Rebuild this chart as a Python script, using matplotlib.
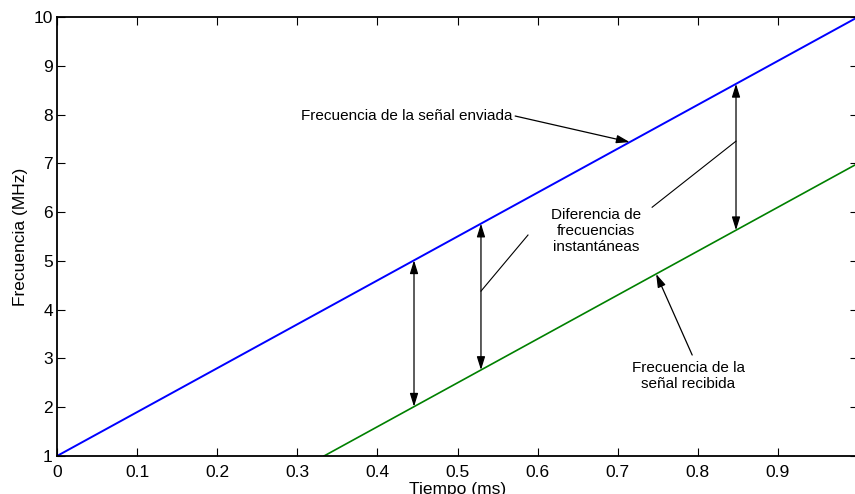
import numpy as np
import matplotlib
matplotlib.use("Agg")
import matplotlib.pyplot as plt

plt.rcParams['font.family'] = ['Liberation Sans', 'DejaVu Sans']

# Data
t_sent = [0.0, 1.0]
f_sent = [1.0, 10.0]
t_recv = [1.0 / 3.0, 1.0]
f_recv = [1.0, 7.0]
xticks = [0, 0.1, 0.2, 0.3, 0.4, 0.5, 0.6, 0.7, 0.8, 0.9]
xticklabels = ['0', '0.1', '0.2', '0.3', '0.4', '0.5', '0.6', '0.7', '0.8', '0.9']
yticks = [1, 2, 3, 4, 5, 6, 7, 8, 9, 10]
diff_times = [0.4457, 0.5293, 0.8477]

W, H = 855, 494
fig = plt.figure(figsize=(W / 100, H / 100), dpi=100)
ax = fig.add_axes([57 / W, 1 - 456 / H, (858 - 57) / W, (456 - 17) / H])

ax.plot(t_sent, f_sent, color='#0000ff', lw=1.4)
ax.plot(t_recv, f_recv, color='#008000', lw=1.2)

ax.set_xlim(0, 1)
ax.set_ylim(1, 10)
ax.set_xticks(xticks)
ax.set_xticklabels(xticklabels)
ax.set_yticks(yticks)
ax.tick_params(direction='in', length=6, width=0.8, top=True, right=True,
               labelsize=12.5)
ax.tick_params(axis='x', pad=6.5)
ax.tick_params(axis='y', pad=3)
for s in ax.spines.values():
    s.set_linewidth(1.3)
ax.set_xlabel('Tiempo (ms)', fontsize=12.5, labelpad=1.2)
ax.set_ylabel('Frecuencia (MHz)', fontsize=12.5, labelpad=4)


def sent(t):
    return np.interp(t, t_sent, f_sent)


def recv(t):
    return np.interp(t, t_recv, f_recv)


aprops = dict(arrowstyle='<|-|>,head_length=0.8,head_width=0.25', color='black',
              lw=0.9, shrinkA=0, shrinkB=0)
for t in diff_times:
    ax.annotate('', xy=(t, sent(t)), xytext=(t, recv(t)), arrowprops=aprops)

one = dict(arrowstyle='-|>,head_length=0.8,head_width=0.25', color='black',
           lw=0.9, shrinkA=0, shrinkB=0)

# Sent annotation
ax.text(0.569, 7.97, 'Frecuencia de la señal enviada', ha='right', va='center', fontsize=11)
ax.annotate('', xy=(0.715, sent(0.715)), xytext=(0.572, 7.97), arrowprops=one)

# Difference annotation
ax.text(0.673, 5.61, 'Diferencia de\nfrecuencias\ninstantáneas', ha='center', va='center',
        fontsize=11, linespacing=1.15)
ax.plot([0.743, 0.8477], [6.10, 7.455], color='black', lw=0.8)
ax.plot([0.588, 0.5293], [5.53, 4.38], color='black', lw=0.8)

# Received annotation
ax.text(0.788, 2.64, 'Frecuencia de la\nseñal recibida', ha='center', va='center',
        fontsize=11, linespacing=1.15)
ax.annotate('', xy=(0.748, recv(0.748)), xytext=(0.793, 3.07), arrowprops=one)

fig.savefig('out.png', dpi=100)
